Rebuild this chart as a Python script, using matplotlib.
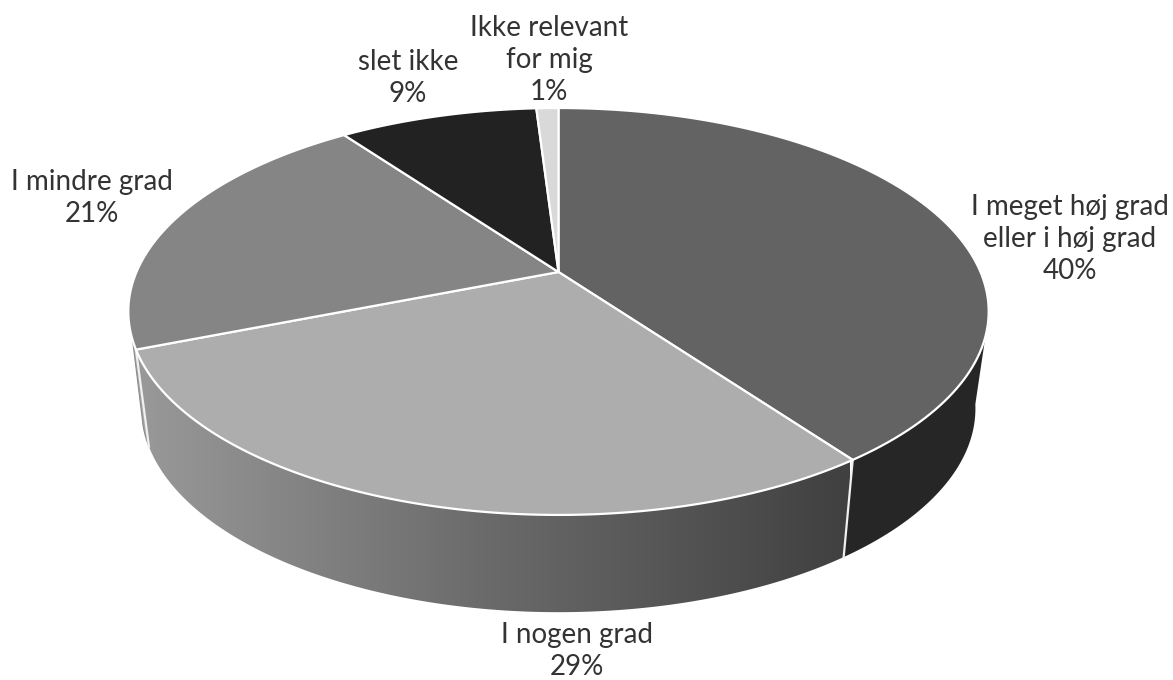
import numpy as np
import matplotlib
matplotlib.use('Agg')
import matplotlib.pyplot as plt
from matplotlib.colors import LinearSegmentedColormap
from matplotlib.patches import Polygon

labels = ['I meget høj grad\neller i høj grad', 'I nogen grad', 'I mindre grad',
          'slet ikke', 'Ikke relevant\nfor mig']
values = [40, 29, 21, 9, 1]
top_colors = ['#636363', '#adadad', '#858585', '#222222', '#d9d9d9']
label_pos = [(1070, 239), (577, 651), (92, 198), (408, 78), (549, 60)]

plt.rcParams['font.family'] = ['Lato', 'DejaVu Sans']

# perspective disc, angles run clockwise from 12 o'clock
K = 0.194
CX = 558.5


def disc(theta, a, b, y0):
    t = np.radians(theta)
    w = 1 + K * np.cos(t)
    return np.column_stack([CX + a * np.sin(t) / w, y0 - b * np.cos(t) / w])


def top(theta):
    return disc(theta, 422, 195.8, 272)


def bottom(theta):
    return disc(theta, 409, 196, 369)


def arc(a, b):
    return np.linspace(a, b, 120)


edges = np.concatenate([[0], np.cumsum(values)]) * 3.6

fig = plt.figure(figsize=(11.73, 6.8), dpi=100)
ax = fig.add_axes([0, 0, 1, 1])
ax.set_xlim(0, 1173)
ax.set_ylim(680, 0)
ax.axis('off')

# side wall, right slice
wall = np.vstack([top(arc(108, edges[1])), bottom(arc(edges[1], 100))])
ax.add_patch(Polygon(wall, closed=True, fc='#262626', ec='none', zorder=1))

# side wall, front slice with the horizontal shading
wall = np.vstack([top(arc(edges[1], edges[2])), bottom(arc(edges[2], edges[1]))])
patch = Polygon(wall, closed=True, fc='none', ec='none', zorder=1)
ax.add_patch(patch)
cmap = LinearSegmentedColormap.from_list('wall', ['#9a9a9a', '#6a6a6a', '#404040'])
im = ax.imshow(np.linspace(0, 1, 256).reshape(1, -1), cmap=cmap, aspect='auto',
               extent=[130, 850, 680, 0], zorder=1)
im.set_clip_path(patch)
ax.set_xlim(0, 1173)
ax.set_ylim(680, 0)

# thin sliver of the wall on the left
wall = np.vstack([top(arc(edges[2], 251)), bottom(arc(254, edges[2]))])
ax.add_patch(Polygon(wall, closed=True, fc='#a4a4a4', ec='#8c8c8c', lw=0.8, zorder=1))

# white seams down the wall
for e in (edges[1], edges[2]):
    p0, p1 = top(e)[0], bottom(e)[0]
    ax.plot([p0[0], p1[0]], [p0[1], p1[1]], color='#f0f0f0', lw=1.6, zorder=2)

# top face
apex = np.array([CX, 272])
for i, c in enumerate(top_colors):
    pts = np.vstack([apex, top(arc(edges[i], edges[i + 1]))])
    ax.add_patch(Polygon(pts, closed=True, fc=c, ec='white', lw=1.6, zorder=3,
                         joinstyle='round'))

for lab, v, (x, y) in zip(labels, values, label_pos):
    ax.text(x, y, f'{lab}\n{v}%', ha='center', va='center', fontsize=20,
            color='#333333', linespacing=1.3)

fig.savefig('out.png', dpi=100)
